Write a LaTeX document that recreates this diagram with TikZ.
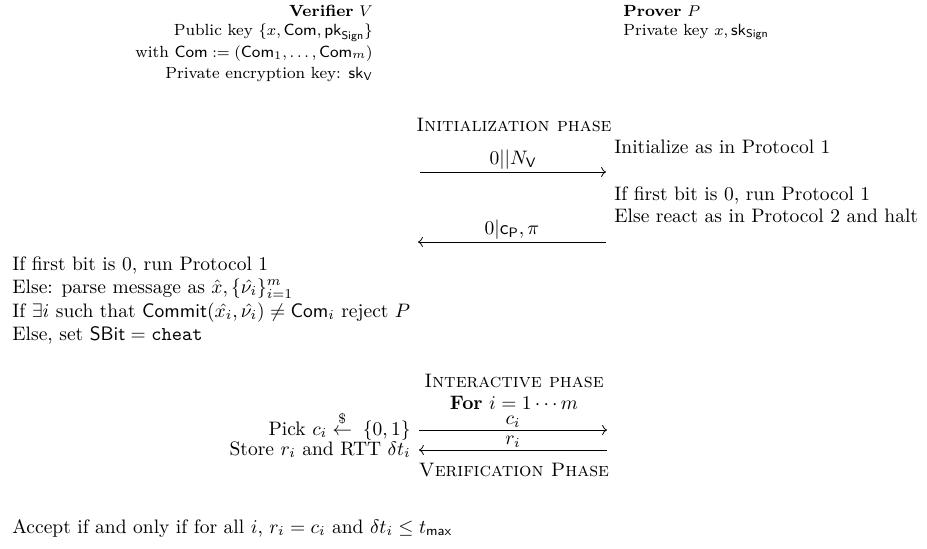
\documentclass[tikz,border=0pt]{standalone}
\usepackage{amsmath,amssymb}
\usepackage{fontspec}
\usetikzlibrary{arrows.meta,positioning}

\begin{document}
\begin{tikzpicture}[x=0.5128pt,y=-0.5128pt,
  lft/.style={anchor=base west,inner sep=0pt},
  rgt/.style={anchor=base east,inner sep=0pt},
  mid/.style={anchor=base,inner sep=0pt},
  party/.style={font=\fontsize{8.3}{10}\selectfont},
  msg/.style={above,inner sep=1pt}]
\useasboundingbox (0,0) rectangle (927,548);
% the two parties
\node[rgt,party] (ver) at (373,16) {\textbf{Verifier} $V$};
\node[rgt,party] (vk1) at (373,35) {Public key $\{x,\mathsf{Com},\mathsf{pk}_{\mathsf{Sign}}\}$};
\node[rgt,party] (vk2) at (373,57) {with $\mathsf{Com}:=(\mathsf{Com}_1,\ldots,\mathsf{Com}_m)$};
\node[rgt,party] (vk3) at (373,78) {Private encryption key: $\mathsf{sk}_{\mathsf{V}}$};
\node[lft,party] (prv) at (623,16) {\textbf{Prover} $P$};
\node[lft,party] (pk1) at (623,35) {Private key $x,\mathsf{sk}_{\mathsf{Sign}}$};
% initialization
\node[mid] (init) at (514,131) {\textsc{Initialization phase}};
\coordinate (v1) at (420,172);
\coordinate (p1) at (606,172);
\draw[->] (v1) -- node[msg] (m1) {$0||N_{\mathsf{V}}$} (p1);
\node[lft] (pa) at (614,153) {Initialize as in Protocol 1};
\node[lft] (pb) at (614,200) {If first bit is 0, run Protocol 1};
\node[lft] (pc) at (614,222) {Else react as in Protocol 2 and halt};
\coordinate (p2) at (606,242);
\coordinate (v2) at (418,242);
\draw[->] (p2) -- node[msg] (m2) {$0|\mathsf{c}_{\mathsf{P}},\pi$} (v2);
\node[lft] (va) at (12,270) {If first bit is 0, run Protocol 1};
\node[lft] (vb) at (12,293) {Else: parse message as $\hat{x},\{\hat{\nu_i}\}_{i=1}^m$};
\node[lft] (vc) at (12,317) {If $\exists i$ such that $\mathsf{Commit}(\hat{x_i},\hat{\nu_i})\neq\mathsf{Com}_i$ reject $P$};
\node[lft] (vd) at (12,340) {Else, set $\mathsf{SBit}=\mathtt{cheat}$};
% interactive part
\node[mid] (inter) at (514,387) {\textsc{Interactive phase}};
\node[mid] (loop) at (514,409) {\textbf{For} $i=1\cdots m$};
\coordinate (v3) at (419,430);
\coordinate (p3) at (607,430);
\draw[->] (v3) -- node[msg] (m3) {$c_i$} (p3);
\node[rgt] (pick) at (411,435) {Pick $c_i\stackrel{\$}{\leftarrow}\;\{0,1\}$};
\coordinate (p4) at (607,450);
\coordinate (v4) at (419,450);
\draw[->] (p4) -- node[msg] (m4) {$r_i$} (v4);
\node[rgt] (store) at (411,455) {Store $r_i$ and RTT $\delta t_i$};
\node[mid] (verif) at (514,476) {\textsc{Verification Phase}};
\node[lft] (acc) at (12,533) {Accept if and only if for all $i$, $r_i=c_i$ and $\delta t_i\leq t_{\mathsf{max}}$};
\end{tikzpicture}
\end{document}
